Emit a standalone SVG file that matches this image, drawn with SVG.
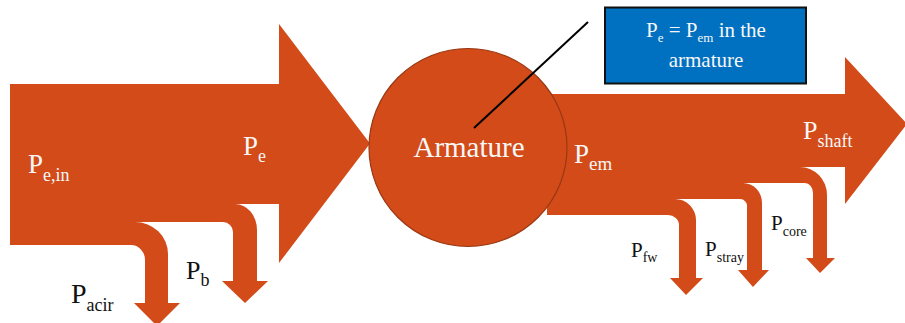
<svg xmlns="http://www.w3.org/2000/svg" width="905" height="323" viewBox="0 0 905 323">
<style>
.f{fill:#D24B19;}
.w{fill:#F7F7F7;}
.k{fill:#111111;}
</style>
<rect width="905" height="323" fill="#FFFFFF"/>
<g id="input-arrow">
<path class="f" d="M10,84 H279 V24 L370,143.5 L279,263 V204 H10 Z"/>
</g>
<g id="loss-b">
<path class="f" d="M10,204 H235 A22,26 0 0 1 257,230 V281 H268 L245,303 L222,281 H233 V232 A10,10 0 0 0 223,222 H10 Z"/>
</g>
<g id="loss-acir">
<path class="f" d="M10,222 H135 A33,32 0 0 1 168,254 V303 H180 L157,326 L134,303 H145 V260 A14,15 0 0 0 131,245 H10 Z"/>
</g>
<g id="output-arrow">
<path class="f" d="M547,94 H845 V57 L907,124 L845,204 V167 H547 Z"/>
</g>
<g id="loss-core">
<path class="f" d="M547,167 H800 A27,28 0 0 1 827,195 V258 H835 L820,273 L806,258 H813 V193 A8,10 0 0 0 805,183 H547 Z"/>
</g>
<g id="loss-stray">
<path class="f" d="M547,183 H743 A19,20 0 0 1 762,203 V270 H769 L753,287 L738,270 H747 V207 A7,7 0 0 0 740,199 H547 Z"/>
</g>
<g id="loss-fw">
<path class="f" d="M547,199 H675 A21,21 0 0 1 696,220 V278 H703 L686,295 L670,278 H679 V225 A11,10 0 0 0 668,215 H547 Z"/>
</g>
<g id="armature">
<circle class="f" cx="468" cy="147.5" r="99" stroke="#9A3812" stroke-width="1.2"/>
<text class="w" x="469" y="157" font-family="Liberation Serif, DejaVu Serif, serif" font-size="29" text-anchor="middle">Armature</text>
</g>
<g id="connectors">
<line x1="474" y1="128" x2="588" y2="22" stroke="#000000" stroke-width="2"/>
</g>
<g id="note" font-family="Liberation Serif, DejaVu Serif, serif">
<rect x="605" y="7.5" width="201" height="76" fill="#0070C0" stroke="#111111" stroke-width="2"/>
<text class="w" x="706" y="37" font-size="21" text-anchor="middle">P<tspan font-size="13" dy="5">e</tspan><tspan dy="-5"> = P</tspan><tspan font-size="13" dy="5">em</tspan><tspan dy="-5"> in the</tspan></text>
<text class="w" x="706" y="67" font-size="21" text-anchor="middle">armature</text>
</g>
<g id="labels" font-family="Liberation Serif, DejaVu Serif, serif">
<text class="w" x="28" y="173" font-size="27">P<tspan font-size="18" dy="8">e,in</tspan></text>
<text class="w" x="243" y="155" font-size="27">P<tspan font-size="18" dy="7">e</tspan></text>
<text class="k" x="71" y="303" font-size="28">P<tspan font-size="18" dy="8">acir</tspan></text>
<text class="k" x="186" y="279" font-size="26">P<tspan font-size="18" dy="7">b</tspan></text>
<text class="w" x="574" y="163" font-size="27">P<tspan font-size="19" dy="7">em</tspan></text>
<text class="w" x="803" y="139" font-size="26">P<tspan font-size="18" dy="8">shaft</tspan></text>
<text class="k" x="631" y="257" font-size="21">P<tspan font-size="14" dy="5">fw</tspan></text>
<text class="k" x="705" y="256" font-size="21">P<tspan font-size="14" dy="6">stray</tspan></text>
<text class="k" x="771" y="230" font-size="21">P<tspan font-size="14" dy="6">core</tspan></text>
</g>
</svg>
